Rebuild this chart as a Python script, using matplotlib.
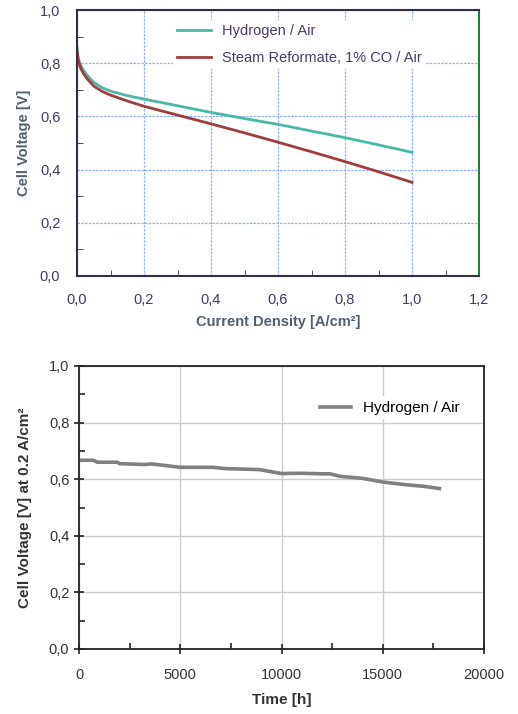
import numpy as np
import matplotlib.pyplot as plt
from matplotlib.ticker import MultipleLocator, FuncFormatter

# polarisation curves (top)
current_h2 = [0.0, 0.003, 0.007, 0.012, 0.02, 0.03, 0.05, 0.075, 0.1, 0.15, 0.2, 0.3, 0.4,
              0.5, 0.6, 0.7, 0.8, 0.9, 1.0]
voltage_h2 = [0.86, 0.825, 0.805, 0.79, 0.772, 0.755, 0.728, 0.708, 0.695, 0.678, 0.665,
              0.64, 0.615, 0.592, 0.57, 0.545, 0.52, 0.493, 0.465]
current_ref = [0.0, 0.003, 0.007, 0.012, 0.02, 0.03, 0.05, 0.075, 0.1, 0.15, 0.2, 0.3, 0.4,
               0.5, 0.6, 0.7, 0.8, 0.9, 1.0]
voltage_ref = [0.85, 0.815, 0.795, 0.778, 0.76, 0.742, 0.714, 0.694, 0.68, 0.658, 0.638,
               0.605, 0.572, 0.538, 0.503, 0.467, 0.43, 0.392, 0.352]

# long term test (bottom)
time_h = [0, 700, 900, 1900, 2000, 3200, 3600, 4300, 5000, 6600, 7300, 7950, 8900,
          10000, 11000, 12000, 12400, 12900, 14000, 15000, 16200, 17000, 17800]
voltage_t = [0.667, 0.667, 0.66, 0.66, 0.655, 0.652, 0.654, 0.648, 0.642, 0.642, 0.637,
             0.636, 0.634, 0.62, 0.621, 0.619, 0.619, 0.61, 0.603, 0.59, 0.58, 0.575, 0.567]

comma = FuncFormatter(lambda v, p: ('%.1f' % v).replace('.', ','))

plt.rcParams['font.family'] = ['Liberation Sans', 'DejaVu Sans']

fig = plt.figure(figsize=(5.18, 7.14), dpi=100)
W, H = 518, 714

# ---------- top chart ----------
ax1 = fig.add_axes([77 / W, 1 - 276 / H, (479 - 77) / W, (276 - 10) / H])
tc = '#3c3c64'
ax1.plot(current_h2, voltage_h2, color='#48b8a8', lw=2, label='Hydrogen / Air')
ax1.plot(current_ref, voltage_ref, color='#a03c3c', lw=2, label='Steam Reformate, 1% CO / Air')
ax1.set_xlim(0, 1.2)
ax1.set_ylim(0, 1.0)
ax1.xaxis.set_major_locator(MultipleLocator(0.2))
ax1.yaxis.set_major_locator(MultipleLocator(0.2))
ax1.xaxis.set_minor_locator(MultipleLocator(0.1))
ax1.yaxis.set_minor_locator(MultipleLocator(0.1))
ax1.xaxis.set_major_formatter(comma)
ax1.yaxis.set_major_formatter(comma)
ax1.grid(True, which='major', color='#8fb0ff', lw=0.9, ls=(0, (2, 1)))
ax1.tick_params(which='both', direction='in', top=False, right=False, colors='#303030',
                labelcolor=tc, labelsize=10.5)
ax1.tick_params(which='major', length=0, pad=12)
ax1.tick_params(which='minor', length=4)
for s in ax1.spines.values():
    s.set_color('#303040')
    s.set_linewidth(1.5)
ax1.spines['right'].set_color('#208040')
ax1.set_xlabel('Current Density [A/cm²]', fontsize=10.5, fontweight='bold', color='#506070', labelpad=6)
ax1.set_ylabel('Cell Voltage [V]', fontsize=10.5, fontweight='bold', color='#506070', labelpad=6)
leg1 = ax1.legend(loc='upper left', bbox_to_anchor=(0.22, 0.99), frameon=True, facecolor='white',
                  edgecolor='none', framealpha=1, fontsize=10.5, handlelength=2.3,
                  labelspacing=0.85, borderpad=0.3)
for t in leg1.get_texts():
    t.set_color('#4a3a70')

# ---------- bottom chart ----------
ax2 = fig.add_axes([79 / W, 1 - 649 / H, (484 - 79) / W, (649 - 366) / H])
ax2.plot(time_h, voltage_t, color='#808080', lw=2.6, label='Hydrogen / Air')
ax2.set_xlim(0, 20000)
ax2.set_ylim(0, 1.0)
ax2.xaxis.set_major_locator(MultipleLocator(5000))
ax2.xaxis.set_minor_locator(MultipleLocator(2500))
ax2.yaxis.set_major_locator(MultipleLocator(0.2))
ax2.yaxis.set_minor_locator(MultipleLocator(0.1))
ax2.yaxis.set_major_formatter(comma)
ax2.grid(True, which='major', color='#cccccc', lw=1)
ax2.tick_params(which='major', direction='inout', length=7, width=1.2, labelsize=10.5,
                colors='#222222', labelcolor='#333333')
ax2.tick_params(which='minor', direction='in', length=4, width=1.2, colors='#222222')
ax2.tick_params(axis='x', pad=10)
for s in ax2.spines.values():
    s.set_color('#222222')
    s.set_linewidth(1.3)
ax2.set_xlabel('Time [h]', fontsize=11, fontweight='bold', color='#333333', labelpad=8)
ax2.set_ylabel('Cell Voltage [V] at 0.2 A/cm²', fontsize=11, fontweight='bold', color='#333333', labelpad=12)
ax2.legend(loc='upper right', bbox_to_anchor=(0.97, 0.92), frameon=True, facecolor='white',
           edgecolor='none', framealpha=1, fontsize=11, handlelength=2.0, borderpad=0.3)

fig.savefig('out.png', dpi=100)
